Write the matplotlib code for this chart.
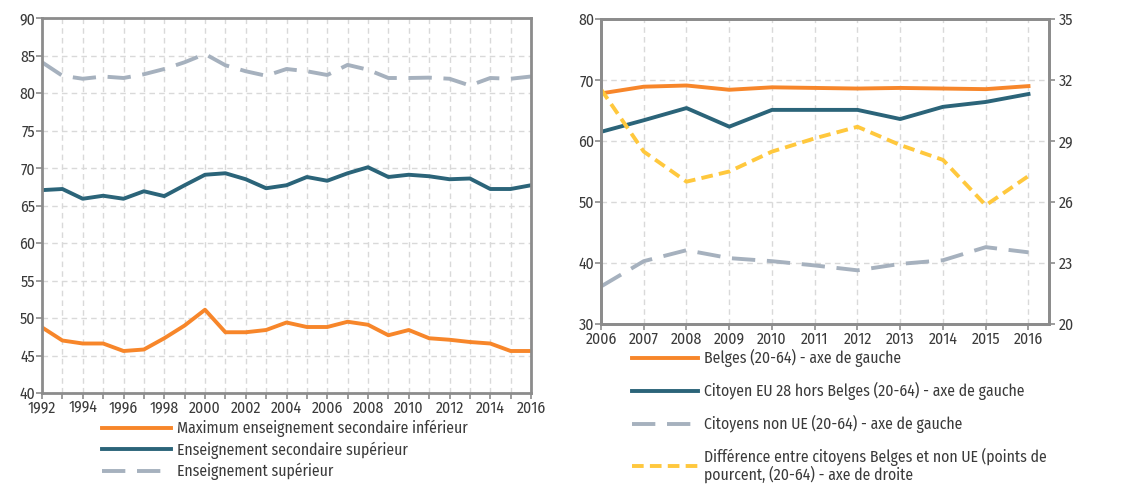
import matplotlib
matplotlib.use("Agg")
import matplotlib.pyplot as plt

years_left = list(range(1992, 2017))
maximum_inf = [48.75, 47.0, 46.6, 46.6, 45.6, 45.8, 47.3, 49.0, 51.1, 48.1, 48.1, 48.4, 49.4,
               48.8, 48.8, 49.5, 49.1, 47.7, 48.4, 47.3, 47.1, 46.8, 46.6, 45.6, 45.6]
secondaire_sup = [67.05, 67.2, 65.9, 66.3, 65.9, 66.9, 66.25, 67.7, 69.1, 69.3, 68.5, 67.3, 67.7,
                  68.8, 68.3, 69.3, 70.1, 68.8, 69.1, 68.9, 68.5, 68.6, 67.2, 67.2, 67.7]
superieur = [84.1, 82.3, 81.9, 82.2, 82.0, 82.5, 83.2, 84.1, 85.2, 83.7, 82.9, 82.3, 83.2,
             82.9, 82.4, 83.75, 83.1, 82.0, 82.0, 82.05, 81.9, 81.0, 82.0, 81.9, 82.2]

years_right = list(range(2006, 2017))
belges = [67.8, 68.9, 69.1, 68.4, 68.8, 68.7, 68.6, 68.7, 68.6, 68.5, 69.0]
eu28 = [61.5, 63.4, 65.4, 62.35, 65.1, 65.1, 65.1, 63.6, 65.6, 66.4, 67.7]
non_ue = [36.15, 40.3, 42.1, 40.8, 40.3, 39.6, 38.8, 39.85, 40.45, 42.6, 41.75]
difference = [31.54, 28.48, 27.0, 27.5, 28.48, 29.13, 29.7, 28.8, 28.07, 25.84, 27.28]

labels_left = ["Maximum enseignement secondaire inférieur",
               "Enseignement secondaire supérieur",
               "Enseignement supérieur"]
labels_right = ["Belges (20-64) - axe de gauche",
                "Citoyen EU 28 hors Belges (20-64) - axe de gauche",
                "Citoyens non UE (20-64) - axe de gauche",
                "Différence entre citoyens Belges et non UE (points de\npourcent, (20-64) - axe de droite"]

ORANGE = "#F7862A"
TEAL = "#2B6479"
GRAY = "#A6B1BE"
YELLOW = "#FFC83D"
SPINE = "#8C8C8C"
TXT = "#3A3A3A"
GRID = "#D9D9D9"

plt.rcParams['font.family'] = ['Fira Sans Condensed', 'DejaVu Sans']
plt.rcParams['font.weight'] = 'normal'
FS = 11.3
LW = 2.8

fig = plt.figure(figsize=(11.27, 4.84), dpi=100)

def style(ax):
    for s in ax.spines.values():
        s.set_color(SPINE)
        s.set_linewidth(2)
    ax.tick_params(colors=SPINE, labelcolor=TXT, labelsize=FS, length=4, width=1.2, direction='out', pad=1)
    ax.grid(True, color=GRID, linestyle=(0, (4, 3)), linewidth=1)
    ax.set_axisbelow(True)

ax1 = fig.add_axes([42/1127, 1-393/484, 489/1127, 375/484])
ax1.plot(years_left, maximum_inf, color=ORANGE, lw=LW, label=labels_left[0])
ax1.plot(years_left, secondaire_sup, color=TEAL, lw=LW, label=labels_left[1])
ax1.plot(years_left, superieur, color=GRAY, lw=LW, dashes=(6, 3), label=labels_left[2])
ax1.set_xlim(1992, 2016)
ax1.set_ylim(40, 90)
ax1.set_yticks(range(40, 91, 5))
ax1.set_xticks(range(1992, 2017, 2))
ax1.set_xticks(range(1993, 2016, 2), minor=True)
style(ax1)
ax1.tick_params(which='minor', colors=SPINE, length=4, width=1.2, direction='out')
ax1.grid(True, which='minor', axis='x', color=GRID, linestyle=(0, (4, 3)), linewidth=1)
ax1.legend(loc='upper left', bbox_to_anchor=(102/1127, 1-420/484), bbox_transform=fig.transFigure,
           frameon=False, fontsize=FS, handlelength=4.4, labelspacing=0.26, handletextpad=0.4,
           borderaxespad=0, borderpad=0, labelcolor=TXT)

ax2 = fig.add_axes([601/1127, 1-324/484, 448/1127, 305/484])
ax2.plot(years_right, belges, color=ORANGE, lw=LW, label=labels_right[0])
ax2.plot(years_right, eu28, color=TEAL, lw=LW, label=labels_right[1])
ax2.plot(years_right, non_ue, color=GRAY, lw=LW, dashes=(6, 3), label=labels_right[2])
ax2.set_xlim(2006, 2016.48)
ax2.set_ylim(30, 80)
ax2.set_yticks(range(30, 81, 10))
ax2.set_xticks(years_right)
style(ax2)
ax3 = ax2.twinx()
ax3.plot(years_right, difference, color=YELLOW, lw=LW, dashes=(3, 1.6), label=labels_right[3])
ax3.set_ylim(20, 35)
ax3.set_yticks(range(20, 36, 3))
for s in ax3.spines.values():
    s.set_color(SPINE)
    s.set_linewidth(2)
ax3.tick_params(colors=SPINE, labelcolor=TXT, labelsize=FS, length=4, width=1.2, direction='out', pad=3)
h1, l1 = ax2.get_legend_handles_labels()
h2, l2 = ax3.get_legend_handles_labels()
leg = ax3.legend(h1 + h2, l1 + l2, loc='upper left', bbox_to_anchor=(632/1127, 1-349/484), bbox_transform=fig.transFigure,
                 frameon=False, fontsize=FS, handlelength=4.2, labelspacing=0.95, handletextpad=0.4,
                 borderaxespad=0, borderpad=0, labelcolor=TXT)
leg.get_texts()[3].set_linespacing(0.95)

fig.savefig("out.png", dpi=100)
